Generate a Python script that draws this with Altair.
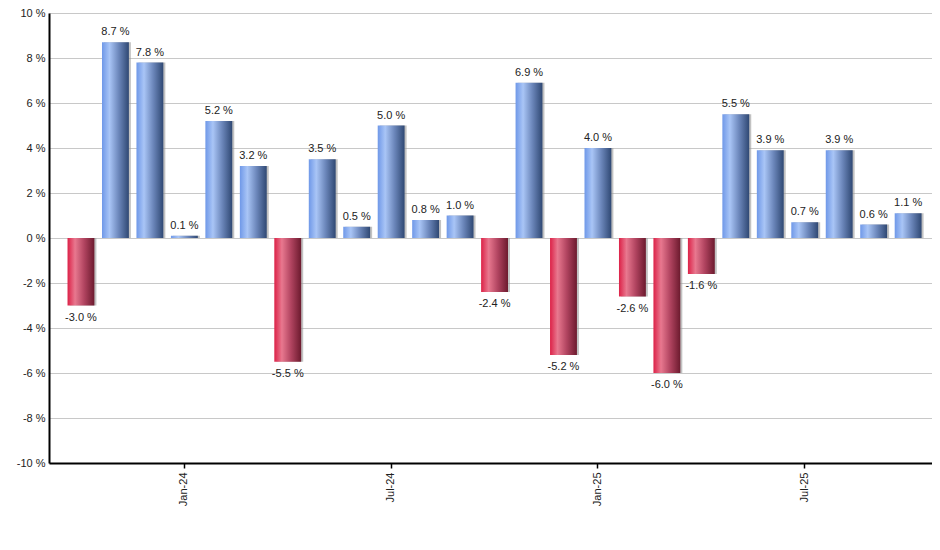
import altair as alt
import pandas as pd

months = ["Oct-23", "Nov-23", "Dec-23", "Jan-24", "Feb-24", "Mar-24", "Apr-24", "May-24",
          "Jun-24", "Jul-24", "Aug-24", "Sep-24", "Oct-24", "Nov-24", "Dec-24", "Jan-25",
          "Feb-25", "Mar-25", "Apr-25", "May-25", "Jun-25", "Jul-25", "Aug-25", "Sep-25", "Oct-25"]
returns = [-3.0, 8.7, 7.8, 0.1, 5.2, 3.2, -5.5, 3.5, 0.5, 5.0, 0.8, 1.0, -2.4, 6.9, -5.2,
           4.0, -2.6, -6.0, -1.6, 5.5, 3.9, 0.7, 3.9, 0.6, 1.1]
tick_months = ["Jan-24", "Jul-24", "Jan-25", "Jul-25"]
y_ticks = [-10, -8, -6, -4, -2, 0, 2, 4, 6, 8, 10]

df = pd.DataFrame({"month": months, "value": returns})
df["label"] = [f"{v:.1f} %" for v in returns]

FONT = "Liberation Sans"

blue_grad = alt.Gradient(
    gradient="linear", x1=0, x2=1, y1=0, y2=0,
    stops=[alt.GradientStop(color="#6f98e8", offset=0),
           alt.GradientStop(color="#a9c5f6", offset=0.28),
           alt.GradientStop(color="#6c87bb", offset=0.62),
           alt.GradientStop(color="#2f4873", offset=1)])
red_grad = alt.Gradient(
    gradient="linear", x1=0, x2=1, y1=0, y2=0,
    stops=[alt.GradientStop(color="#dc2147", offset=0),
           alt.GradientStop(color="#e8788f", offset=0.28),
           alt.GradientStop(color="#b14460", offset=0.62),
           alt.GradientStop(color="#6c1a2e", offset=1)])

x_enc = alt.X("month:N", sort=months, title=None,
              scale=alt.Scale(paddingInner=0.22, paddingOuter=0.42, align=0.64),
              axis=alt.Axis(values=tick_months, labelAngle=-90, grid=False,
                            domainColor="#000000", domainWidth=2,
                            tickColor="#000000", tickSize=5, tickWidth=1.5,
                            labelPadding=4, labelFont=FONT, labelFontSize=11,
                            labelColor="#222222"))
y_enc = alt.Y("value:Q", title=None,
              scale=alt.Scale(domain=[-10, 10], nice=False, zero=True),
              axis=alt.Axis(values=y_ticks, labelExpr="datum.value + ' %'",
                            grid=True, gridColor="#c8c8c8", gridWidth=1,
                            ticks=False, domainColor="#000000", domainWidth=2,
                            labelPadding=4, labelFont=FONT, labelFontSize=11,
                            labelColor="#222222"))

base = alt.Chart(df)

shadow = base.mark_bar(color="#9a9a9a", opacity=0.6, xOffset=2).encode(x=x_enc, y=y_enc)
pos = base.transform_filter("datum.value >= 0").mark_bar(color=blue_grad).encode(x=x_enc, y=y_enc)
neg = base.transform_filter("datum.value < 0").mark_bar(color=red_grad).encode(x=x_enc, y=y_enc)

pos_text = base.transform_filter("datum.value >= 0").mark_text(
    baseline="bottom", dy=-5, font=FONT, fontSize=11, color="#222222"
).encode(x=x_enc, y=y_enc, text="label:N")
neg_text = base.transform_filter("datum.value < 0").mark_text(
    baseline="top", dy=6, font=FONT, fontSize=11, color="#222222"
).encode(x=x_enc, y=y_enc, text="label:N")

chart = alt.layer(shadow, pos, neg, pos_text, neg_text).properties(
    width=883, height=450,
    autosize=alt.AutoSizeParams(type="none"),
    padding={"left": 41, "top": 5, "right": 0, "bottom": 60},
).configure_view(stroke=None).configure(background="white")

chart.save("out.html", embed_options={"renderer": "svg", "actions": False})
